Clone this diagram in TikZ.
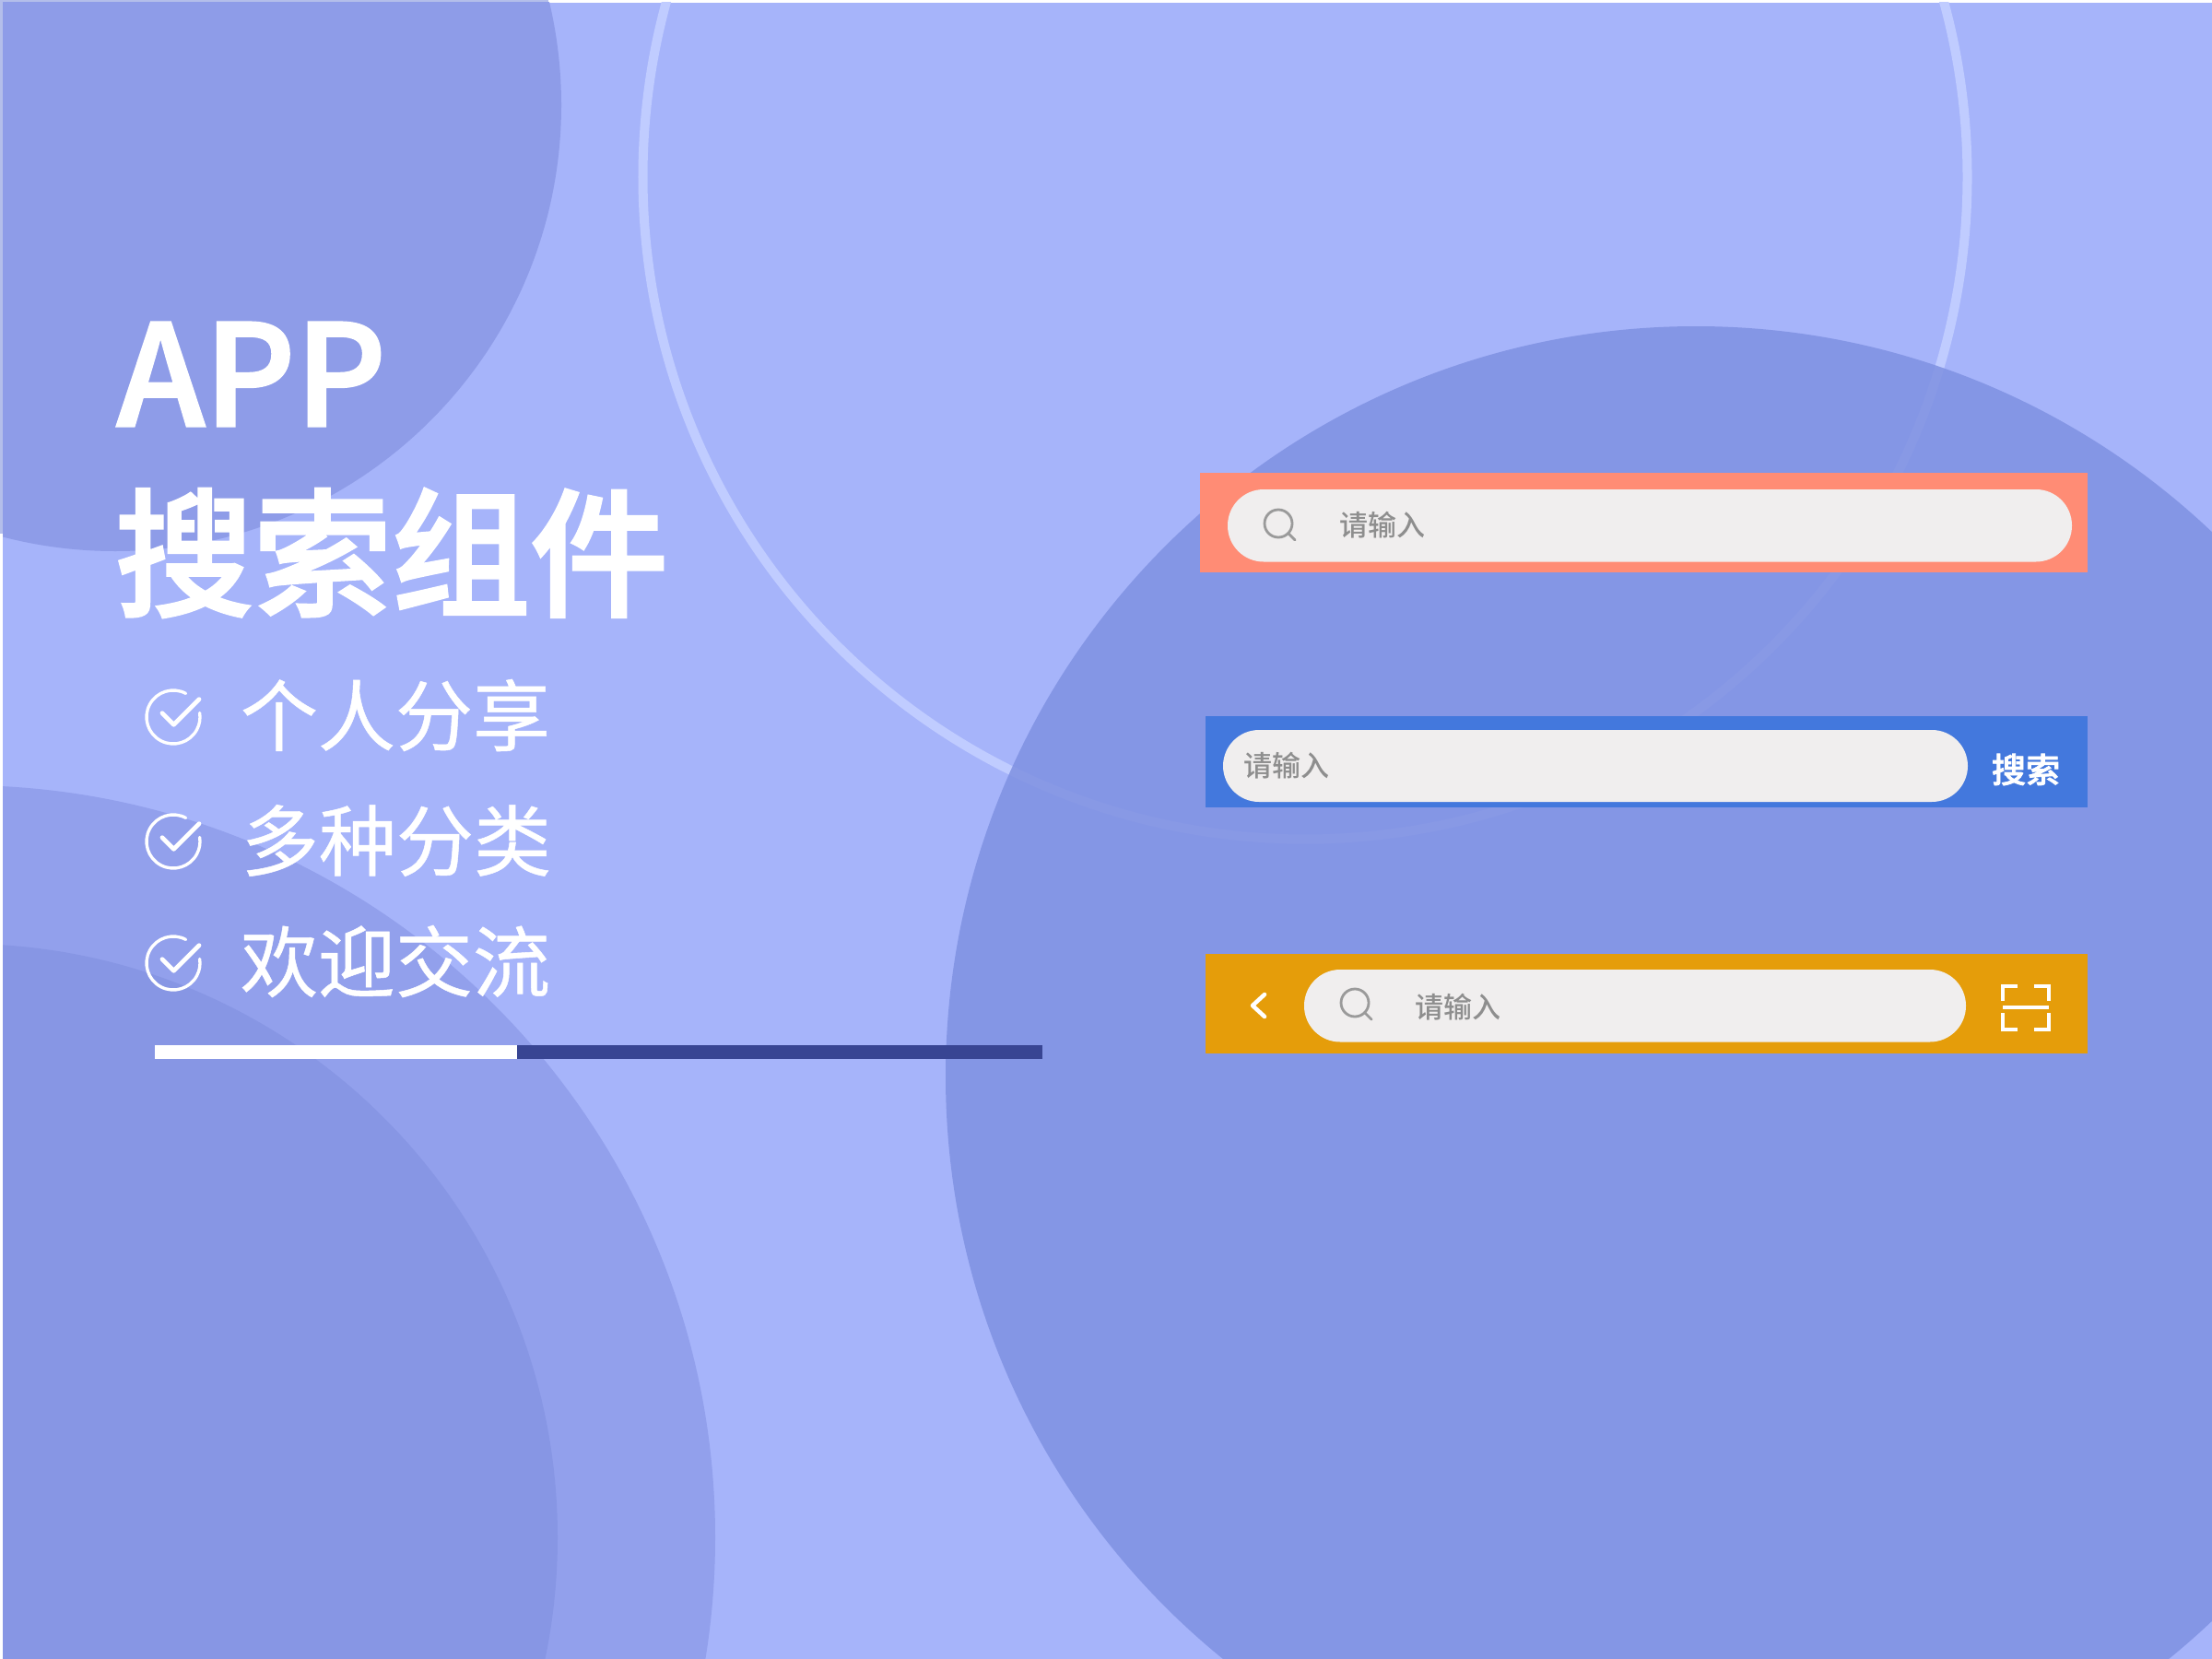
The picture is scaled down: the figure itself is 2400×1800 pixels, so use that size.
\documentclass[tikz,border=0pt]{standalone}
\usepackage{fontspec}
\setmainfont{Noto Sans CJK SC}
\newfontfamily\titlefont[FakeBold=2]{Noto Sans CJK SC Medium}
\newfontfamily\medfont{Noto Sans CJK SC Medium}
\newfontfamily\listfont[FakeBold=0.6]{Noto Sans CJK SC}
\newcommand{\fpx}[1]{\pgfmathsetmacro\fsz{#1*0.2845}\fontsize{\fsz pt}{\fsz pt}\selectfont}
\definecolor{basec}{HTML}{A6B4FA}
\definecolor{tlc}{HTML}{8E9CE8}
\definecolor{blo}{HTML}{92A0EC}
\definecolor{bli}{HTML}{8796E4}
\definecolor{bigc}{HTML}{8092E2}
\definecolor{ringc}{HTML}{C0CCFF}
\definecolor{pillc}{HTML}{F0EEEE}
\definecolor{graytx}{HTML}{8E8E8E}
\definecolor{grayic}{HTML}{9A9A9A}
\definecolor{barorange}{HTML}{FF8C75}
\definecolor{barblue}{HTML}{4378DD}
\definecolor{baramber}{HTML}{E59D0A}
\definecolor{darkbar}{HTML}{384593}
\definecolor{edgec}{HTML}{B4BEEA}
\tikzset{
  title/.style={text=white,inner sep=0pt,font=\titlefont},
  listitem/.style={text=white,inner sep=0pt,font=\listfont},
  hint/.style={text=graytx,inner sep=0pt,font=\medfont},
  pill/.style={fill=pillc,rounded corners=11.1pt},
  glass/.style={draw=grayic,line width=.8pt,line cap=round},
  tick/.style={draw=white,line width=.95pt,line cap=round,line join=round},
  tickmark/.style={draw=white,line width=1.35pt,line cap=round,line join=round},
  whiteicon/.style={draw=white,line width=.9pt},
}
\begin{document}
\begin{tikzpicture}[x=0.01cm,y=0.01cm,yscale=-1]
\useasboundingbox (0,0) rectangle (2400,1800);
\fill[white] (0,0) rectangle (2400,1800);
\fill[edgec] (0,0) rectangle (595,3);
\fill[edgec] (0,0) rectangle (3,579);
\fill[basec] (3,3) rectangle (2400,1800);
\begin{scope}
\clip (3,3) rectangle (2400,1800);
\fill[tlc] (125,114) circle[radius=484];
\fill[blo] (-40,1668) circle[radius=816];
\fill[bli] (-39,1668) circle[radius=644];
\draw[ringc,line width=2.85pt] (1416,192) circle[radius=718.5];
\fill[bigc,opacity=.87] (1840,1168) circle[radius=814];
\end{scope}
% title
\node[title,anchor=center] (t1) at (273,406) {\fpx{152}APP};
\node[title,anchor=center] (t2) at (425,600) {\fpx{150}搜索组件};
% list
\node[listitem,anchor=center] (l1) at (429,776) {\fpx{84}个人分享};
\node[listitem,anchor=center] (l2) at (430,912) {\fpx{84}多种分类};
\node[listitem,anchor=center] (l3) at (429,1043) {\fpx{84}欢迎交流};
\foreach \cy in {778,913,1045}{
  \draw[tick] (188,\cy) ++(-62:29) arc[start angle=-62,end angle=-369,radius=29];
  \draw[tickmark] (176,\cy-4.3) -- (188.5,\cy+8.3) -- (216,\cy-19.3);
}
% bar
\fill[white] (168,1134) rectangle (561,1149);
\fill[darkbar] (561,1134) rectangle (1131,1149);
% orange bar
\fill[barorange] (1302,513) rectangle (2265,621);
\fill[pill] (1332,531) rectangle (2248,609.5);
\draw[glass] (1387,568) circle[radius=15];
\draw[glass] (1398,579) -- (1405,586);
\node[hint,anchor=center] (h1) at (1500,570) {\fpx{31}请输入};
% blue bar
\fill[barblue] (1308,777) rectangle (2265,876);
\fill[pill] (1327,792) rectangle (2135,870);
\node[hint,anchor=center] (h2) at (1396,831) {\fpx{31}请输入};
\node[title,anchor=center] (s2) at (2198,835) {\fpx{37}搜索};
% amber bar
\fill[baramber] (1308,1035) rectangle (2265,1143);
\fill[pill] (1415,1052) rectangle (2133,1130.5);
\draw[glass] (1470,1088) circle[radius=15];
\draw[glass] (1481,1099) -- (1488,1106);
\node[hint,anchor=center] (h3) at (1582,1093) {\fpx{31}请输入};
\draw[white,line width=1.28pt,line cap=round,line join=round] (1372,1079) -- (1359,1091) -- (1372,1103);
\draw[whiteicon] (2173,1086) -- (2173,1070) -- (2189,1070);
\draw[whiteicon] (2207,1070) -- (2223,1070) -- (2223,1086);
\draw[whiteicon] (2173,1099) -- (2173,1117) -- (2189,1117);
\draw[whiteicon] (2207,1117) -- (2223,1117) -- (2223,1099);
\draw[whiteicon] (2173,1093) -- (2223,1093);
\end{tikzpicture}
\end{document}
